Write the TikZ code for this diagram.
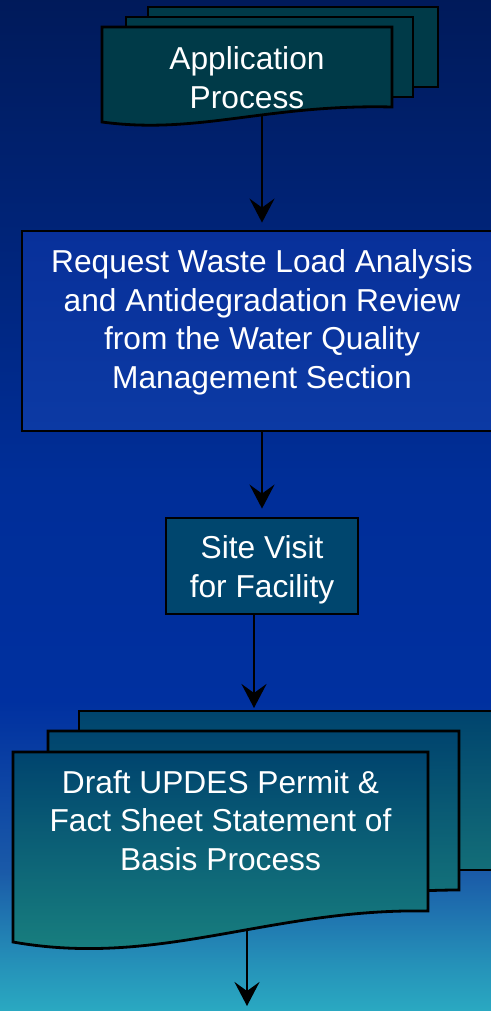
\documentclass[tikz,border=0pt]{standalone}
\usepackage{fontspec}
\setmainfont{Liberation Sans}
\usetikzlibrary{arrows.meta}
\definecolor{bgA}{HTML}{001A5A}
\definecolor{bgB}{HTML}{002E98}
\definecolor{bgC}{HTML}{0030A0}
\definecolor{bgD}{HTML}{1A5AA8}
\definecolor{bgE}{HTML}{2590B8}
\definecolor{bgF}{HTML}{2AAAC2}
\definecolor{appfill}{HTML}{003A48}
\definecolor{reqtop}{HTML}{08309A}
\definecolor{reqbot}{HTML}{0C3AA4}
\definecolor{sitefill}{HTML}{00466E}
\definecolor{drafttop}{HTML}{00446E}
\definecolor{draftbot}{HTML}{1A8480}
\definecolor{draftmid}{HTML}{177A7C}
\definecolor{draftbk}{HTML}{136E78}
\pgfdeclareverticalshading{bgshade}{100bp}{color(0bp)=(bgF); color(25bp)=(bgF); color(27.52bp)=(bgE); color(31.97bp)=(bgD); color(40.38bp)=(bgC); color(51.26bp)=(bgB); color(75bp)=(bgA); color(100bp)=(bgA)}
\tikzset{
  border/.style={draw=black, line width=2.8pt, line join=miter},
  txt/.style={text=white, align=center, inner sep=0pt, font=\fontsize{31.7}{38.5}\selectfont},
  arr/.style={draw=black, line width=2.6pt, -{Stealth[length=24pt,width=25pt,inset=9pt]}}
}
\begin{document}
\begin{tikzpicture}[x=1pt,y=-1pt]
\useasboundingbox (0,0) rectangle (490,1011);
\shade[shading=bgshade] (-2,-2) rectangle (492,1013);

% anchor coordinates on the document shapes
\coordinate (appbot) at (262,110);
\coordinate (drafttopin) at (254,711);
\coordinate (draftbot) at (247,928);
\coordinate (endpt) at (247,1006);

% boxes
\node[border, top color=reqtop, bottom color=reqbot, minimum width=480pt, minimum height=200pt, inner sep=0pt] (b2) at (262,331) {};
\node[border, fill=sitefill, minimum width=192pt, minimum height=96pt, inner sep=0pt] (b3) at (262,566) {};

% connectors (drawn beneath the document shapes)
\draw[arr, shorten >=7pt] (appbot) -- (b2.north);
\draw[arr, shorten >=8pt] (b2.south) -- (b3.north);
\draw[arr, shorten >=3pt] ([xshift=-8pt]b3.south) -- (drafttopin);
\draw[arr] (draftbot) -- (endpt);

% top multi-document
\path[border, fill=appfill] (148,7) rectangle (438,87);
\path[border, fill=appfill] (126,17) rectangle (413,97);
\path[border, fill=appfill] (102,27) -- (392,27) -- (392,107)
  .. controls (267,104) and (198,135) .. (102,122) -- cycle;

% bottom multi-document
\path[border, top color=drafttop, bottom color=draftbk] (79,711) -- (520,711) -- (520,870) -- (79,870) -- cycle;
\path[border, top color=drafttop, bottom color=draftmid] (48,731) -- (459,731) -- (459,890)
  .. controls (330,890) and (200,925) .. (48,915) -- cycle;
\path[border, top color=drafttop, bottom color=draftbot] (13,752) -- (428,752) -- (428,911)
  .. controls (270,908) and (160,968) .. (13,942) -- cycle;

% texts
\node[txt] (t1) at (247,77.5) {Application\\Process};
\node[txt] (t2) at (262,322.5) {Request Waste Load Analysis\\and Antidegradation Review\\from the Water Quality\\Management Section};
\node[txt] (t3) at (262,570) {Site Visit\\for Facility};
\node[txt] (t4) at (220.5,820.5) {Draft UPDES Permit \&\\Fact Sheet Statement of\\Basis Process};
\end{tikzpicture}
\end{document}
